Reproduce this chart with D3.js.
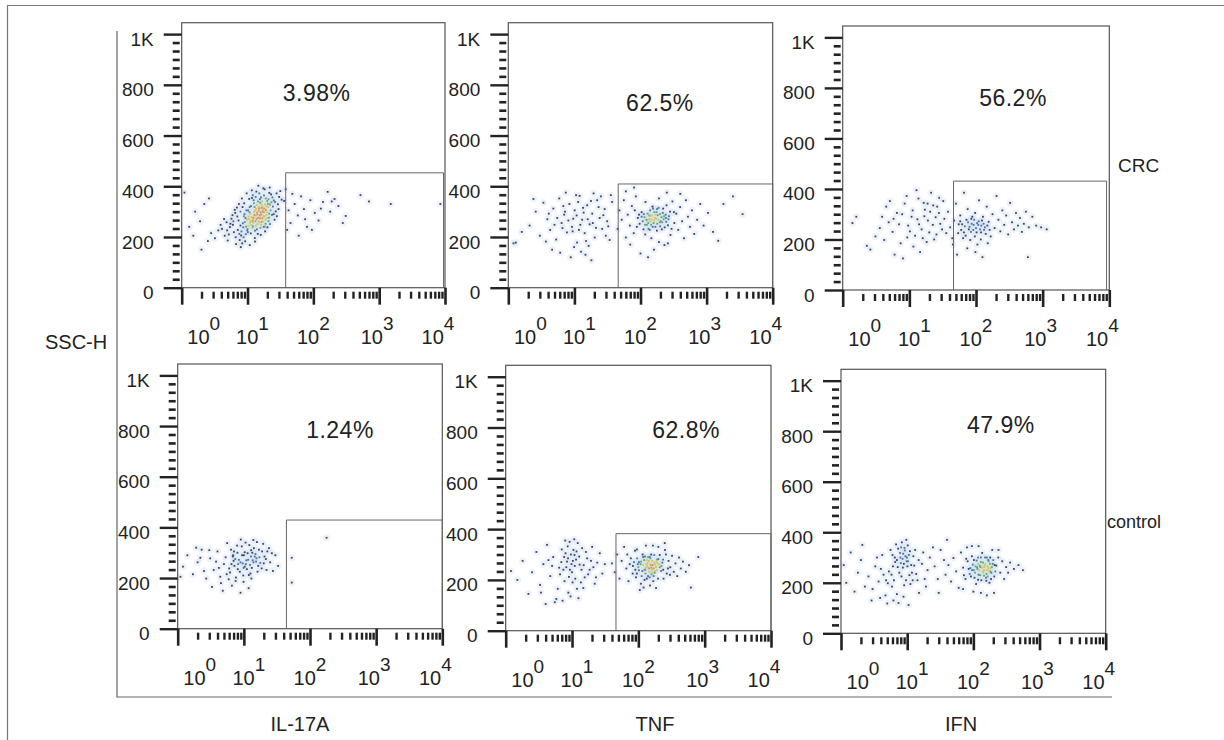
<!DOCTYPE html>
<html>
<head>
<meta charset="utf-8">
<script src="https://cdn.jsdelivr.net/npm/d3@7"></script>
<style>
  body { margin: 0; background: #fff; }
  text { font-family: "Liberation Sans", Arial, sans-serif; fill: #222; }
</style>
</head>
<body>
<svg id="chart" width="1224" height="740"></svg>
<script>
// Flow cytometry panels: x = fluorescence (log), y = SSC-H (linear)
var columnNames = ["IL-17A", "TNF", "IFN"];
var rowNames = ["CRC", "control"];
var pctLabels = ["3.98%", "62.5%", "56.2%", "1.24%", "62.8%", "47.9%"];
// [x, y] in data units for label centre
var pctAnchors = [[112, 769], [197, 730], [359, 759], [284, 786], [525, 792], [261, 823]];
// gate: [x start, y top, x end]; none for last panel
var gates = [[38, 453, 9500], [46, 409, 10000], [46, 431, 9100], [44, 429, 10000], [46, 382, 10000], null];
var yTicks = [0, 200, 400, 600, 800, 1000];
var yTickLabels = ["0", "200", "400", "600", "800", "1K"];
var xDecades = [1, 10, 100, 1000, 10000];
var xExponents = ["0", "1", "2", "3", "4"];

var il17CRC = [
  [4.1,232],[5.2,210],[6.0,248],[7.3,265],[8.1,222],[9.0,290],[10.2,305],[11.5,278],[12.8,318],[14.0,296],
  [15.6,335],[17.1,310],[18.9,352],[20.4,331],[22.8,368],[25.1,344],[27.6,372],[30.2,358],[9.5,241],[10.9,256],
  [12.1,270],[13.3,284],[14.7,262],[16.2,289],[8.7,199],[7.6,188],[11.2,214],[13.9,230],[6.5,295],[5.7,272],
  [4.8,258],[3.6,226],[3.2,195],[12.4,345],[15.1,372],[18.2,388],[21.7,395],[24.3,320],[19.6,298],[16.8,274],
  [14.2,251],[11.8,236],[10.1,219],[9.2,183],[8.3,175],[12.9,196],[15.9,208],[17.6,240],[20.9,262],[23.5,287],
  [26.8,301],[28.9,329],[31.5,381],[33.0,347],[6.9,316],[8.9,333],[10.6,350],[12.0,365],[13.6,379],[7.8,245],
  [9.8,268],[11.0,292],[13.1,305],[14.9,318],[16.5,326],[18.0,312],[19.3,286],[21.1,276],[22.4,305],[24.9,290],
  [7.1,228],[8.5,254],[10.4,281],[12.6,299],[14.4,340],[16.0,356],[17.8,364],[19.9,342],[12.2,257],[13.7,271],
  [15.3,285],[16.9,301],[11.4,248],[10.0,232],[9.4,211],[8.0,206],[6.2,219],[5.4,239],[4.5,205],[5.0,186],
  [6.7,172],[7.9,160],[10.8,168],[13.0,182],[18.5,222],[20.1,238],[22.0,251],[25.7,268],[27.9,282],[29.6,310],
  [26.2,338],[23.9,356],[21.4,374],[17.4,392],[14.6,402],[11.6,384],[9.7,372],[8.2,352],[7.4,330],[6.4,307],
  [5.9,286],[4.4,271],[3.9,248],[12.3,276],[14.1,289],[15.8,297],[17.3,282],[18.7,268],[16.4,259],[13.4,244],
  [11.9,263],[10.5,271],[9.1,259],[15.0,312],[13.8,326],[12.5,333],[16.7,341],[18.4,329],[20.6,318],[19.0,306],
  [17.0,317],[14.8,304],[15.5,274],[13.2,262],[16.1,248],[18.8,252],
  [9.3,275],[10.7,298],[11.3,322],[12.7,287],[13.5,311],[14.5,276],[15.2,258],[16.3,315],[17.7,298],[18.1,281],
  [19.4,322],[20.8,349],[21.9,328],[23.1,337],[11.1,262],[10.3,244],[9.9,226],[8.6,238],[7.5,212],[8.8,282],
  [9.6,305],[10.8,318],[12.1,242],[13.0,225],[14.3,212],[15.7,236],[17.0,262],[18.3,241],[19.8,274],[21.3,292],
  [6.1,262],[7.0,281],[7.8,300],[8.4,318],[5.5,252],[4.9,226],[6.6,199],[11.7,354],[13.3,358],[15.4,349],
  [1.1,375],[1.3,240],[1.6,300],[1.9,262],[2.2,330],[2.5,184],[2.8,215],[2.0,150],[2.6,352],[1.5,205],
  [38,388],[42,305],[45,255],[52,330],[58,285],[65,360],[72,310],[80,240],[90,345],[105,295],
  [120,265],[140,338],[165,378],[180,300],[210,350],[240,322],[280,255],[310,283],[60,205],[48,370],
  [36,342],[40,228],[75,270],[130,312],[700,340],[1500,330],[8500,330],[95,228],[190,340],[520,365]
];

var tnfCRC = [
  [2.1,245],[2.6,300],[3.0,205],[3.4,335],[3.9,270],[4.3,228],[4.8,312],[5.3,190],[5.9,352],[6.4,255],
  [7.0,288],[7.7,218],[8.4,330],[9.2,240],[10.1,305],[11.0,178],[12.0,362],[13.1,268],[14.3,215],[15.6,325],
  [17.0,250],[18.6,292],[20.3,198],[22.1,345],[24.1,275],[26.3,232],[28.7,310],[31.3,262],[34.1,188],[37.2,338],
  [4.6,150],[6.1,138],[8.8,120],[12.6,142],[16.4,165],[10.6,365],[7.4,375],[19.5,372],[25.2,360],[29.9,205],
  [3.7,182],[5.0,248],[6.8,322],[9.6,272],[11.7,228],[13.8,296],[15.0,184],[17.8,342],[21.2,236],[23.2,318],
  [27.4,286],[32.5,242],[35.6,365],[9.9,160],[14.7,130],[18.1,108],[1.6,220],[1.3,178],[2.4,350],
  [5.5,275],[7.2,300],[8.1,265],[9.4,222],[10.8,285],[12.3,248],[13.5,315],[6.6,235],[15.9,270],[4.1,292],
  [11.4,338],[19.0,255],
  [45,232],[48,305],[52,268],[56,345],[60,198],[64,288],[69,245],[74,322],[79,215],[85,360],
  [91,275],[97,252],[104,298],[111,230],[119,338],[127,265],[136,285],[145,248],[155,312],[166,275],
  [177,225],[190,352],[203,262],[217,295],[232,238],[248,325],[265,270],[284,208],[304,340],[325,255],
  [348,292],[372,228],[398,318],[426,262],[456,195],[488,345],[522,280],[560,240],[600,305],[650,212],
  [720,268],[800,330],[900,245],[1050,295],[1250,220],[1500,185],
  [115,278],[128,292],[135,270],[142,262],[150,285],[158,255],[162,298],[172,272],[182,286],[195,258],
  [208,278],[125,248],[140,305],[168,240],[188,315],[210,230],[225,270],[240,288],[260,246],[280,300],
  [108,262],[95,288],[88,240],[82,305],[132,232],[152,320],[175,298],[198,242],[220,312],[245,260],
  [270,282],[295,232],[320,298],[118,210],[146,195],[190,180],[230,168],[160,150],[260,175],[70,170],
  [112,290],[123,268],[131,255],[139,282],[147,270],[153,240],[161,265],[169,288],[179,252],[186,268],
  [197,290],[213,258],[228,282],[243,275],[178,310],[138,228],[117,248],[104,280],
  [100,135],[130,120],[2500,360],[3500,290],[1800,330],[60,380],[250,375],[400,370],[80,395],[1.2,175]
];

var ifnCRC = [
  [2.3,175],[2.6,160],[3.1,212],[3.6,245],[4.2,198],[4.9,268],[5.6,230],[6.5,305],[7.4,185],[8.5,342],
  [9.6,255],[10.8,290],[12.2,215],[13.7,362],[15.3,240],[17.1,318],[19.0,275],[21.2,385],[23.6,200],[26.2,330],
  [29.1,262],[32.3,352],[35.8,225],[6.0,140],[8.0,125],[11.5,172],[14.5,150],[18.2,190],[9.1,372],[12.8,395],
  [16.4,345],[20.5,310],[24.8,288],[28.0,365],[31.0,240],[7.0,260],[10.2,232],[13.2,280],[15.9,205],[18.8,342],
  [22.5,258],[25.5,220],[27.8,305],[33.5,282],[4.5,330],[5.1,352],[3.9,290],[1.6,290],[1.4,265],
  [14.0,260],[16.8,292],[11.2,315],[9.3,208],[19.9,228],[7.8,300],[22.8,335],[5.8,282],
  [38,310],[41,248],[44,205],[47,275],[50,342],[54,225],[58,295],[62,260],[66,385],[70,215],
  [75,320],[80,250],[85,282],[91,238],[97,305],[104,265],[111,355],[119,228],[127,290],[136,248],
  [145,330],[155,270],[166,212],[177,300],[190,245],[203,372],[217,278],[232,232],[248,315],[265,258],
  [284,295],[304,220],[325,345],[348,268],[372,240],[398,305],[426,255],[456,285],[488,230],[522,262],
  [560,310],[620,248],[700,290],[800,255],[950,248],[1150,240],
  [60,238],[68,252],[76,268],[84,230],[92,258],[100,245],[110,272],[120,255],[132,238],[88,290],
  [72,278],[64,205],[96,212],[118,200],[140,222],[55,260],[82,198],[105,180],[45,180],[150,185],
  [78,240],[86,262],[94,278],[102,228],[108,258],[115,240],[123,275],[130,262],[66,228],[58,272],
  [148,255],[160,238],
  [74,165],[98,150],[125,130],[52,140],[600,130]
];

var il17Ctrl = [
  [1.2,245],[1.4,290],[1.7,215],[2.0,262],[2.3,312],[2.7,198],[3.1,278],[3.5,232],[4.0,305],[4.5,180],
  [5.0,255],[5.6,338],[6.2,222],[6.9,290],[7.6,202],[8.4,272],[9.3,325],[10.3,245],[11.4,298],[12.6,218],
  [13.9,350],[15.3,265],[16.9,312],[18.6,238],[20.5,285],[22.6,305],[25.0,262],[27.5,228],[30.0,290],[33.0,248],
  [3.3,165],[4.8,150],[6.6,170],[8.9,142],[11.8,160],[5.9,195],[7.2,248],[8.0,300],[9.8,210],[10.9,270],
  [12.1,330],[13.2,240],[14.6,285],[16.1,225],[17.7,260],[19.6,335],[21.5,275],[5.3,282],[4.2,240],[3.8,265],
  [2.5,228],[6.4,312],[7.9,328],[9.0,352],[10.6,340],[12.9,310],[15.0,295],[17.2,282],[18.9,305],[6.0,238],
  [7.0,268],[8.7,225],[9.6,258],[11.1,235],[12.4,252],[13.6,270],[14.2,318],[15.8,342],[16.5,248],[20.0,258],
  [22.0,232],[24.0,318],[26.5,298],[5.5,215],[4.4,205],[7.5,188],[9.9,185],[13.0,198],[10.0,290],[8.2,255],
  [6.8,285],[3.0,310],[2.2,280],[1.1,205],[1.9,320],
  [8.9,262],[9.9,240],[10.7,255],[11.6,272],[12.8,285],[7.4,275],[6.5,255],[14.0,262],[13.4,300],[10.3,302],
  [8.1,235],[15.5,278],[11.9,212],[9.4,290],[7.1,305],
  [178,359],[53,280],[53,182]
];

var tnfCtrl = [
  [1.2,235],[1.5,200],[1.8,275],[2.2,145],[2.5,230],[2.9,310],[3.3,180],[3.7,262],[4.2,338],[4.7,215],
  [5.2,290],[5.8,125],[6.4,248],[7.0,320],[7.7,195],[8.4,272],[9.2,350],[10.0,230],[10.9,298],[11.9,165],
  [13.0,260],[14.2,325],[15.5,210],[16.9,285],[18.4,240],[20.1,330],[22.0,185],[24.0,268],[26.2,305],[28.6,225],
  [31.2,262],[4.0,105],[5.5,112],[7.2,118],[9.5,135],[12.5,128],[3.4,150],[6.1,165],[8.8,150],[11.2,205],
  [13.6,190],[9.8,262],[10.5,318],[11.5,280],[12.2,345],[8.0,305],[7.4,240],[6.6,222],[5.0,255],[4.4,278],
  [13.9,240],[15.0,258],[16.2,310],[17.5,222],[19.3,275],[21.0,250],[23.0,210],[9.0,212],[10.2,190],[14.8,168],
  [8.6,332],[7.9,355],[10.8,360],
  [8.7,285],[9.6,300],[10.3,275],[11.0,255],[7.6,290],[12.8,292],[8.2,250],[9.3,240],[6.9,270],[11.7,312],
  [40,265],[44,230],[48,300],[52,205],[56,275],[61,330],[66,245],[71,195],[77,285],[83,255],
  [89,315],[95,225],[102,270],[109,185],[116,300],[124,240],[132,262],[140,215],[148,290],[157,248],
  [166,335],[176,228],[187,272],[198,205],[210,298],[223,255],[237,240],[252,318],[268,225],[285,275],
  [303,250],[322,295],[342,232],[363,265],[386,215],[410,288],[436,245],[470,272],[520,232],[580,258],
  [100,250],[108,262],[115,235],[122,278],[130,248],[138,268],[146,232],[154,258],[162,275],[170,245],
  [180,262],[190,238],[200,282],[112,215],[126,292],[142,248],[158,222],[174,298],[186,252],[205,262],
  [220,235],[236,280],[90,240],[96,285],[82,225],[74,262],[68,300],[134,205],[150,178],[168,195],
  [118,258],[127,240],[136,255],[144,275],[152,262],[160,240],[172,268],[183,250],[195,265],[110,272],
  [102,238],[98,262],[128,225],[148,210],[165,258],[178,235],[192,280],[210,250],[118,290],[140,290],
  [156,300],[86,270],[92,210],[230,268],[124,200],[170,215],[134,278],[146,245],[162,230],[152,285],
  [120,170],[105,160],[185,168],[240,205],[260,300],[280,245],[300,220],[95,320],[130,335],[200,330],
  [250,345],[620,170],[800,290]
];

var ifnCtrl = [
  [1.1,270],[1.2,200],[1.4,320],[1.6,165],[1.8,240],[2.0,290],[2.3,185],[2.6,225],[2.9,130],[3.3,265],
  [3.7,205],[4.2,310],[4.7,150],[5.3,245],[5.9,185],[6.6,282],[7.4,120],[8.2,225],[9.1,338],[10.1,265],
  [11.2,195],[12.4,305],[13.7,235],[15.1,160],[16.7,275],[18.4,215],[20.3,250],[3.0,175],[3.9,140],[5.0,118],
  [6.2,130],[7.0,155],[8.8,145],[10.5,112],[5.6,330],[6.8,352],[7.8,318],[8.5,295],[9.4,305],[10.2,348],
  [11.0,325],[9.8,285],[7.2,262],[8.0,278],[6.3,210],[4.4,232],[3.5,300],[4.0,255],[5.1,198],[11.8,240],
  [12.8,268],[14.3,210],[13.2,330],[9.6,210],[10.8,230],[7.6,240],[8.6,260],[9.0,190],[6.0,310],[14.9,290],
  [17.5,320],[19.2,185],[22.0,300],[24.5,340],[8.3,360],[9.7,370],[2.1,350],
  [7.9,300],[8.7,315],[9.2,328],[7.3,335],[10.6,310],[6.5,300],[8.1,340],[9.9,300],[7.0,290],[6.1,265],
  [10.3,285],[8.9,275],[5.8,232],[11.5,270],[12.1,210],[4.8,210],
  [26,265],[29,215],[32,330],[36,290],[30,160],[40,370],
  [38,232],[42,270],[46,205],[50,298],[55,245],[60,180],[65,320],[70,260],[76,215],[82,285],
  [88,235],[95,305],[102,250],[110,195],[118,275],[127,230],[136,318],[146,262],[157,208],[168,290],
  [180,245],[193,330],[207,225],[222,268],[238,300],[255,240],[273,285],[292,215],[313,262],[335,240],
  [360,280],[410,255],[480,270],[560,250],
  [90,258],[98,272],[106,240],[114,262],[122,250],[130,282],[138,245],[148,268],[158,235],[168,258],
  [178,275],[190,262],[104,220],[118,300],[132,210],[150,300],[165,225],[185,215],[200,290],[215,245],
  [85,255],[78,295],[72,230],[128,262],[142,240],[112,288],[160,250],[175,200],
  [115,255],[125,268],[135,260],[145,250],[152,275],[164,265],[172,245],[182,258],[196,275],[108,265],
  [96,250],[120,232],[140,280],[155,220],[170,285],[187,240],[210,270],[102,290],[130,300],[145,228],
  [160,300],[118,212],[180,300],[92,225],
  [100,165],[130,160],[160,150],[205,160],[70,175],[240,330],[120,345],[80,340],[95,345]
];

var panelData = [il17CRC, tnfCRC, ifnCRC, il17Ctrl, tnfCtrl, ifnCtrl];

// box of each panel in page pixels
var panels = [
  { left: 181.7, top: 22.7, right: 445, bottom: 287.7 },
  { left: 508.3, top: 22.7, right: 772.7, bottom: 287.7 },
  { left: 842.7, top: 26, right: 1109.3, bottom: 290 },
  { left: 177.7, top: 364, right: 442.3, bottom: 628.7 },
  { left: 505.7, top: 365.3, right: 771, bottom: 630.7 },
  { left: 841, top: 369.3, right: 1105.7, bottom: 633.3 }
];
var labelNudge = [22, 5, 0, -2, -7];

var svg = d3.select("#chart");

// outer frame and the L-shaped frame round the grid
svg.append("path").attr("d", "M7.5,740 V5.5 H1224")
  .attr("fill", "none").attr("stroke", "#777").attr("stroke-width", 1.2);
svg.append("path").attr("d", "M117,31 V697 H1112")
  .attr("fill", "none").attr("stroke", "#666").attr("stroke-width", 1.2);

var densityColour = d3.scaleThreshold()
  .domain([8, 12, 16, 21])
  .range(["#39416b", "#4a6fa6", "#5ba37a", "#d6c645", "#e0913e"]);

function drawPanel(i) {
  var p = panels[i];
  var x = d3.scaleLog().domain([1, 10000]).range([p.left, p.right]);
  var y = d3.scaleLinear().domain([0, 1045]).range([p.bottom, p.top]);
  var g = svg.append("g").attr("class", "panel");

  // dots: local density in pixel space picks the colour
  var pts = panelData[i].map(function (d) { return { px: x(d[0]), py: y(d[1]) }; });
  pts.forEach(function (a) {
    a.n = pts.filter(function (b) {
      var dx = a.px - b.px, dy = a.py - b.py;
      return dx * dx + dy * dy < 49;
    }).length - 1;
  });

  g.append("g").selectAll("circle").data(pts).enter().append("circle")
    .attr("cx", function (d) { return d.px; })
    .attr("cy", function (d) { return d.py; })
    .attr("r", 3.6)
    .attr("fill", "#d3e0f0")
    .attr("opacity", 0.4);

  g.append("g").selectAll("rect").data(pts).enter().append("rect")
    .attr("x", function (d) { return d.px - 0.9; })
    .attr("y", function (d) { return d.py - 0.9; })
    .attr("width", 1.8).attr("height", 1.8)
    .attr("fill", function (d) { return densityColour(d.n); });

  // box
  g.append("rect")
    .attr("x", p.left).attr("y", p.top)
    .attr("width", p.right - p.left).attr("height", p.bottom - p.top)
    .attr("fill", "none").attr("stroke", "#555").attr("stroke-width", 1.2);

  // gate
  if (gates[i]) {
    var gt = gates[i];
    g.append("path")
      .attr("d", "M" + x(gt[0]) + "," + y(0) + " V" + y(gt[1]) + " H" + x(gt[2]) + " V" + y(0))
      .attr("fill", "none").attr("stroke", "#666").attr("stroke-width", 1);
  }

  // y axis, major ticks + labels
  var yAxis = d3.axisLeft(y).tickValues(yTicks)
    .tickFormat(function (d, k) { return yTickLabels[k]; })
    .tickSize(18).tickPadding(10);
  var ya = g.append("g").attr("transform", "translate(" + p.left + ",0)").call(yAxis);
  ya.select(".domain").remove();
  ya.selectAll("line").attr("stroke", "#222").attr("stroke-width", 2.4);
  ya.selectAll("text").attr("dy", "0.58em").style("font-size", "19px")
    .style("font-family", "'Liberation Sans', Arial, sans-serif").attr("fill", "#222");

  // y minor ticks
  var yMinor = d3.range(0, 1001, 200 / 6).filter(function (v) { return Math.round(v) % 200 !== 0; });
  var ym = g.append("g").attr("transform", "translate(" + (p.left - 2) + ",0)")
    .call(d3.axisLeft(y).tickValues(yMinor).tickSize(7).tickFormat(""));
  ym.select(".domain").remove();
  ym.selectAll("line").attr("stroke", "#222").attr("stroke-width", 2.6);

  // x axis, decades
  var xa = g.append("g").attr("transform", "translate(0," + p.bottom + ")")
    .call(d3.axisBottom(x).tickValues(xDecades).tickSize(17).tickFormat(""));
  xa.select(".domain").remove();
  xa.selectAll("line").attr("stroke", "#222").attr("stroke-width", 2.6);

  var xMinor = [];
  xDecades.slice(0, 4).forEach(function (dec) {
    for (var m = 2; m <= 9; m++) xMinor.push(dec * m);
  });
  var xm = g.append("g").attr("transform", "translate(0," + (p.bottom + 4) + ")")
    .call(d3.axisBottom(x).tickValues(xMinor).tickSize(7).tickFormat(""));
  xm.select(".domain").remove();
  xm.selectAll("line").attr("stroke", "#222").attr("stroke-width", 2.4);

  // 10^n labels
  xDecades.forEach(function (dec, k) {
    var t = g.append("text")
      .attr("x", x(dec) + labelNudge[k])
      .attr("y", p.bottom + 56)
      .attr("text-anchor", "middle")
      .style("font-size", "20px");
    t.append("tspan").text("10");
    t.append("tspan").attr("dy", -14).style("font-size", "19px").text(xExponents[k]);
  });

  // percentage
  g.append("text")
    .attr("x", x(pctAnchors[i][0]))
    .attr("y", y(pctAnchors[i][1]))
    .attr("dy", "0.35em")
    .attr("text-anchor", "middle")
    .style("font-size", "23px")
    .style("letter-spacing", "0.5px")
    .text(pctLabels[i]);
}

for (var i = 0; i < panels.length; i++) drawPanel(i);

// axis titles
svg.append("text").attr("x", 45).attr("y", 349).style("font-size", "20px").text("SSC-H");
var colCentres = [300, 655, 961];
columnNames.forEach(function (c, k) {
  svg.append("text").attr("x", colCentres[k]).attr("y", 731)
    .attr("text-anchor", "middle").style("font-size", "20px").text(c);
});
svg.append("text").attr("x", 1118).attr("y", 172).style("font-size", "19px").text(rowNames[0]);
svg.append("text").attr("x", 1107).attr("y", 528).style("font-size", "18px").text(rowNames[1]);
</script>
</body>
</html>
